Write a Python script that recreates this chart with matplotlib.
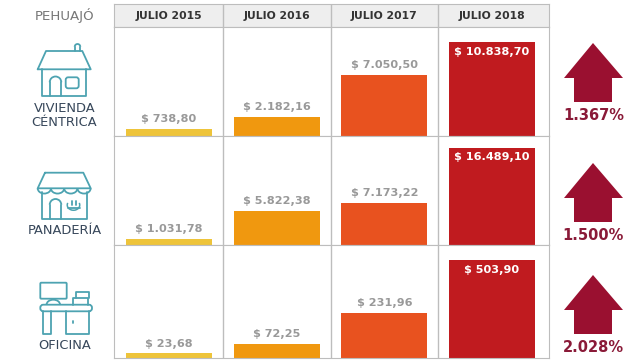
import matplotlib
matplotlib.use('Agg')
import matplotlib.pyplot as plt
from matplotlib.patches import Polygon, FancyBboxPatch, Arc

# datos
periodos = ['JULIO 2015', 'JULIO 2016', 'JULIO 2017', 'JULIO 2018']
vivienda = [738.80, 2182.16, 7050.50, 10838.70]
panaderia = [1031.78, 5822.38, 7173.22, 16489.10]
oficina = [23.68, 72.25, 231.96, 503.90]
vivienda_txt = ['$ 738,80', '$ 2.182,16', '$ 7.050,50', '$ 10.838,70']
panaderia_txt = ['$ 1.031,78', '$ 5.822,38', '$ 7.173,22', '$ 16.489,10']
oficina_txt = ['$ 23,68', '$ 72,25', '$ 231,96', '$ 503,90']
aumentos = ['1.367%', '1.500%', '2.028%']
colores = ['#eec43a', '#f0980f', '#e8521f', '#c01b1f']

GRIS = '#bdbdbd'
TEAL = '#4da3b1'
BORDO = '#9a1030'
W, H = 640, 362

plt.rcParams['font.family'] = 'DejaVu Sans'
fig = plt.figure(figsize=(6.4, 3.62), dpi=100)


def caja(top, bottom, left=114, right=549):
    return [left / W, 1 - bottom / H, (right - left) / W, (bottom - top) / H]


def filas(ax, valores, textos, ymax):
    ax.bar(range(4), valores, width=0.8, color=colores)
    ax.set_xlim(-0.511, 3.529)
    ax.set_ylim(0, ymax)
    ax.set_xticks([0.5, 1.5, 2.5], minor=True)
    ax.set_xticks([])
    ax.set_yticks([])
    ax.tick_params(which='minor', length=0)
    ax.grid(which='minor', axis='x', color=GRIS, lw=1)
    ax.set_axisbelow(True)
    for s in ax.spines.values():
        s.set_color(GRIS)
    for i, (v, t) in enumerate(zip(valores, textos)):
        if i == 3:
            ax.annotate(t, (i, v), xytext=(0, -3.5), textcoords='offset points', ha='center', va='top',
                        color='white', fontsize=8.1, fontweight='bold')
        else:
            ax.annotate(t, (i, v), xytext=(0, 3.5), textcoords='offset points', ha='center', va='bottom',
                        color='#999999', fontsize=8.1, fontweight='bold')


# cabecera
cab = fig.add_axes(caja(3.5, 27))
cab.set_facecolor('#eeeeee')
cab.set_xlim(-0.511, 3.529)
cab.set_ylim(0, 1)
cab.set_xticks([0.5, 1.5, 2.5], minor=True)
cab.set_xticks([])
cab.set_yticks([])
cab.tick_params(which='minor', length=0)
cab.grid(which='minor', axis='x', color=GRIS, lw=1)
for s in cab.spines.values():
    s.set_color(GRIS)
for i, p in enumerate(periodos):
    cab.text(i, 0.47, p, ha='center', va='center', fontsize=7.8, fontweight='bold', color='#333333')

filas(fig.add_axes(caja(27, 135.5)), vivienda, vivienda_txt, 12645)
filas(fig.add_axes(caja(135.5, 245)), panaderia, panaderia_txt, 18537)
filas(fig.add_axes(caja(245, 358)), oficina, oficina_txt, 582)

# capa en pixeles para iconos, flechas y rotulos
ov = fig.add_axes([0, 0, 1, 1], facecolor='none')
ov.set_xlim(0, W)
ov.set_ylim(H, 0)
ov.axis('off')


def linea(xs, ys):
    ov.plot(xs, ys, color=TEAL, lw=1.3, solid_joinstyle='round', solid_capstyle='round')


def redondo(x0, y0, x1, y1, r=1.5, fc='none'):
    ov.add_patch(FancyBboxPatch((x0 + r, y0 + r), x1 - x0 - 2 * r, y1 - y0 - 2 * r,
                                boxstyle=f'round,pad={r},rounding_size={r}',
                                fc=fc, ec=TEAL, lw=1.3))


def puerta(x0, x1, ytop, ybot):
    r = (x1 - x0) / 2
    linea([x0, x0], [ybot, ytop + r])
    linea([x1, x1], [ybot, ytop + r])
    ov.add_patch(Arc(((x0 + x1) / 2, ytop + r), 2 * r, 2 * r, theta1=180, theta2=360, ec=TEAL, lw=1.3))


# casa
linea([37.7, 46, 82.3, 90.7, 37.7], [69.3, 51, 51, 69.3, 69.3])
linea([42.3, 42.3, 85.7, 85.7], [69.3, 96, 96, 69.3])
puerta(49.7, 61.3, 76.5, 96)
redondo(65.7, 77.3, 78.7, 88.3, r=2.5)
puerta(74.7, 80.3, 44, 51)

# panaderia
linea([45, 83.3, 90.7, 37.7, 45], [172.7, 172.7, 188.3, 188.3, 172.7])
for k in range(4):
    ov.add_patch(Arc((37.7 + 6.6 + k * 13.25, 188.3), 13.25, 10.5, theta1=0, theta2=180, ec=TEAL, lw=1.3))
linea([42.3, 42.3, 86.7, 86.7], [192, 219, 219, 192])
puerta(49.7, 61.3, 199, 219)
ov.add_patch(Arc((73.5, 205), 12.5, 10.5, theta1=-20, theta2=200, ec=TEAL, lw=1.1))
linea([67.5, 79.5], [208, 208])
linea([71.5, 71.5], [201, 205])
linea([75.5, 75.5], [201, 205])

# oficina
redondo(40.3, 282.7, 66.7, 298.7, r=1)
ov.add_patch(Arc((53.3, 304.7), 13.5, 10, theta1=180, theta2=360, ec=TEAL, lw=1.3))
redondo(40.3, 304.7, 92, 311.3, r=3)
linea([43.3, 43.3, 50.7, 50.7], [311.3, 334, 334, 311.3])
linea([66, 66, 89.3, 89.3], [311.3, 334, 334, 311.3])
linea([72.7, 72.7], [321, 323])
linea([72.7, 72.7, 87.7, 87.7], [304.7, 298.3, 298.3, 304.7])
linea([76, 76, 89, 89], [298.3, 292, 292, 298.3])

# rotulos
ov.text(65, 15.5, 'PEHUAJÓ', ha='center', va='center', fontsize=9.6, color='#777777')
for x, y, t in [(64.5, 109, 'VIVIENDA'), (64.5, 123, 'CÉNTRICA'), (64.5, 231, 'PANADERÍA'), (64.5, 345.5, 'OFICINA')]:
    ov.text(x, y, t, ha='center', va='center', fontsize=9.4, color='#37475a')

# flechas
for dy, t in zip([0, 120, 232], aumentos):
    ov.add_patch(Polygon([(593, 43 + dy), (623, 78 + dy), (612, 78 + dy), (612, 102 + dy),
                          (574, 102 + dy), (574, 78 + dy), (564, 78 + dy)], closed=True, fc=BORDO, ec='none'))
    ov.text(593.5, 115 + dy, t, ha='center', va='center', fontsize=10.5, fontweight='bold', color='#8a1a38')

fig.savefig('out.png', dpi=100)
